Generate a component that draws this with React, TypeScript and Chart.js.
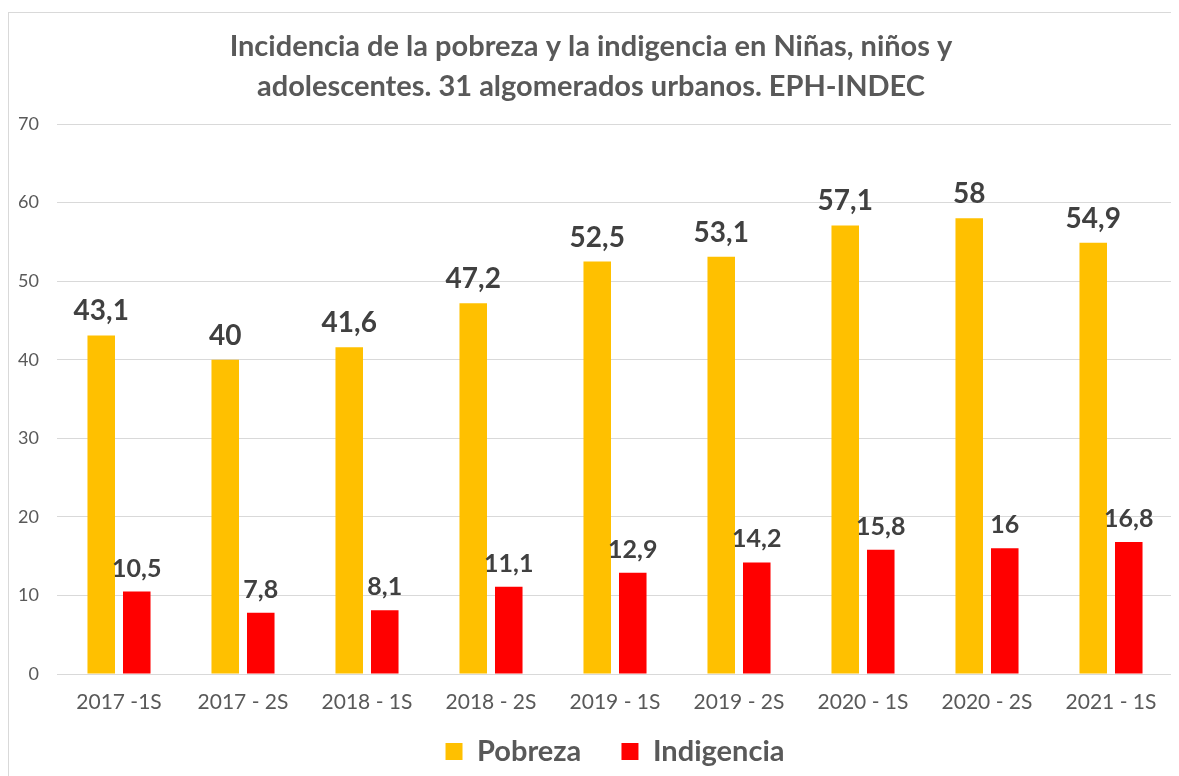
import React, { useEffect, useRef } from "react";
import { Chart, registerables } from "chart.js";

Chart.register(...registerables);

const categories = [
  "2017 -1S",
  "2017 - 2S",
  "2018 - 1S",
  "2018 - 2S",
  "2019 - 1S",
  "2019 - 2S",
  "2020 - 1S",
  "2020 - 2S",
  "2021 - 1S",
];
const pobreza = [43.1, 40, 41.6, 47.2, 52.5, 53.1, 57.1, 58, 54.9];
const indigencia = [10.5, 7.8, 8.1, 11.1, 12.9, 14.2, 15.8, 16, 16.8];
const titleLines = [
  "Incidencia de la pobreza y la indigencia en Niñas, niños y",
  "adolescentes. 31 algomerados urbanos. EPH-INDEC",
];
const seriesNames = ["Pobreza", "Indigencia"];
const yMin = 0;
const yMax = 70;
const yStep = 10;

const FONT = "Lato, 'Open Sans', sans-serif";

const valueLabels = {
  id: "valueLabels",
  afterDatasetsDraw(chart: any) {
    const ctx = chart.ctx;
    ctx.save();
    ctx.textAlign = "center";
    ctx.textBaseline = "alphabetic";
    ctx.fillStyle = "#404040";
    chart.data.datasets.forEach((ds: any, di: number) => {
      const meta = chart.getDatasetMeta(di);
      const size = di === 0 ? 28 : 25;
      ctx.font = `bold ${size}px ${FONT}`;
      meta.data.forEach((el: any, i: number) => {
        const v = ds.data[i];
        const txt = String(v).replace(".", ",");
        ctx.fillText(txt, el.x, el.y - 15);
      });
    });
    ctx.restore();
  },
};

export default function App() {
  const ref = useRef<HTMLCanvasElement | null>(null);
  useEffect(() => {
    if (!ref.current) return;
    const chart = new Chart(ref.current, {
      type: "bar",
      data: {
        labels: categories,
        datasets: [
          {
            label: seriesNames[0],
            data: pobreza,
            backgroundColor: "#FFC000",
            borderWidth: 0,
            categoryPercentage: 0.573,
            barPercentage: 0.775,
          },
          {
            label: seriesNames[1],
            data: indigencia,
            backgroundColor: "#FF0000",
            borderWidth: 0,
            categoryPercentage: 0.573,
            barPercentage: 0.775,
          },
        ],
      },
      options: {
        animation: false,
        responsive: false,
        maintainAspectRatio: false,
        layout: { padding: { left: 0, right: 6, top: 0, bottom: 0 } },
        plugins: {
          title: {
            display: true,
            text: titleLines,
            color: "#595959",
            font: { family: FONT, size: 29, weight: "bold", lineHeight: 1.38 },
            padding: { top: 14, bottom: 17 },
          },
          legend: {
            display: true,
            position: "bottom",
            fullSize: false,
            labels: {
              color: "#595959",
              font: { family: FONT, size: 29, weight: "bold" },
              boxWidth: 17,
              boxHeight: 17,
              padding: 19,
              generateLabels(chart: any) {
                const items = Chart.defaults.plugins.legend.labels.generateLabels(chart);
                return items.map((it: any, i: number) => ({
                  ...it,
                  text: i < items.length - 1 ? it.text + "   " : it.text,
                  lineWidth: 0,
                }));
              },
            },
          },
          tooltip: { enabled: false },
        },
        scales: {
          x: {
            afterFit(scale: any) {
              scale.height = 44;
            },
            grid: { display: false, drawTicks: false },
            border: { display: true, color: "#d9d9d9" },
            ticks: {
              color: "#595959",
              font: { family: FONT, size: 21 },
              padding: 16,
              maxRotation: 0,
              autoSkip: false,
            },
          },
          y: {
            min: yMin,
            max: yMax,
            afterFit(scale: any) {
              scale.width = 48;
            },
            grid: { color: "#d9d9d9", drawTicks: false },
            border: { display: false },
            ticks: {
              stepSize: yStep,
              color: "#595959",
              font: { family: FONT, size: 18 },
              padding: 18,
            },
          },
        },
      },
      plugins: [valueLabels],
    });
    return () => chart.destroy();
  }, []);
  return (
    <div
      style={{
        marginTop: 4,
        width: 1171,
        height: 764,
        borderTop: "1px solid #d9d9d9",
        borderLeft: "1px solid #d9d9d9",
        background: "#fff",
      }}
    >
      <canvas ref={ref} width={1170} height={763} style={{ display: "block" }} />
    </div>
  );
}
